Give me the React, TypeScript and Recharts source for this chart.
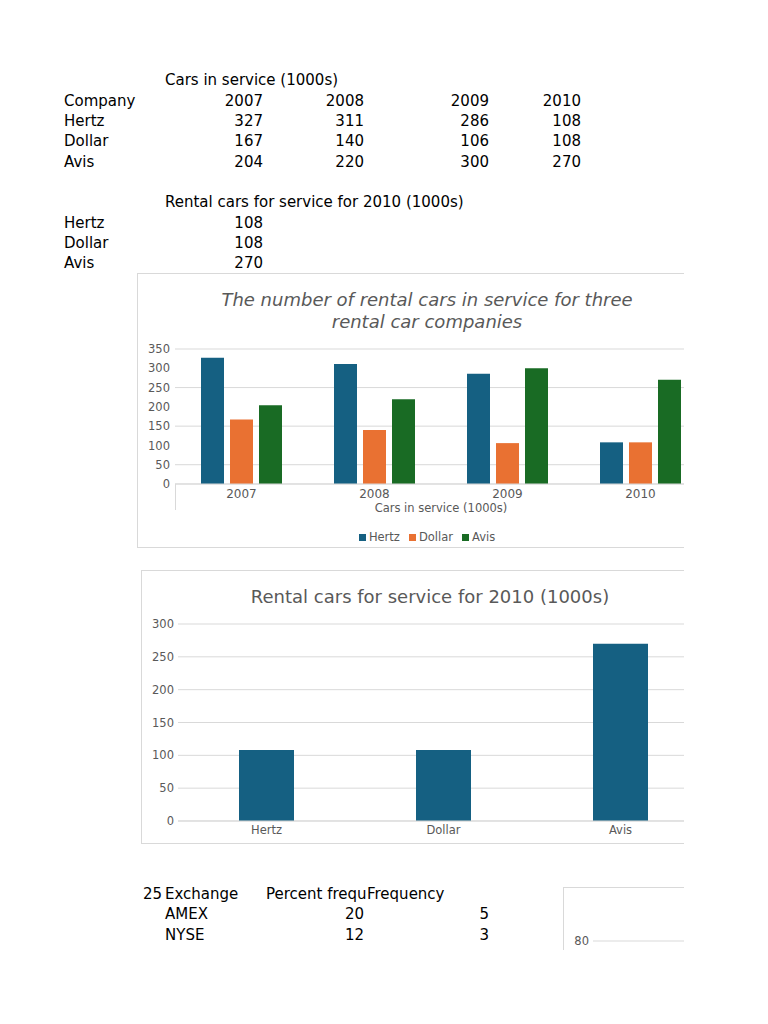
import React from 'react';
import { BarChart, Bar, XAxis, YAxis, CartesianGrid } from 'recharts';

// sheet data
const years = ['2007', '2008', '2009', '2010'];
const hertz = [327, 311, 286, 108];
const dollar = [167, 140, 106, 108];
const avis = [204, 220, 300, 270];

const companies = ['Hertz', 'Dollar', 'Avis'];
const cars2010 = [108, 108, 270];

const exchanges = ['AMEX', 'NYSE'];
const percentFreq = [20, 12];
const frequency = [5, 3];

const ticks1 = [0, 50, 100, 150, 200, 250, 300, 350];
const ticks2 = [0, 50, 100, 150, 200, 250, 300];
const ticks3 = [0, 20, 40, 60, 80];

const colors = { Hertz: '#156082', Dollar: '#E97132', Avis: '#196B24' };

const font = '"DejaVu Sans", sans-serif';
const grey = '#595959';
const line = '#d9d9d9';

const yearData = years.map((year, i) => ({
  year,
  Hertz: hertz[i],
  Dollar: dollar[i],
  Avis: avis[i],
}));
const data2010 = companies.map((name, i) => ({ name, value: cars2010[i] }));
const exchangeData = exchanges.map((name, i) => ({ name, value: percentFreq[i] }));

// column right edges of the sheet
const colRight = [263, 364, 489, 581];
const rowH = 20;

const Cell: React.FC<{ x: number; y: number; right?: boolean; width?: number; children: React.ReactNode }> = ({
  x,
  y,
  right,
  width,
  children,
}) => (
  <div
    style={{
      position: 'absolute',
      top: y - rowH / 2 + 1,
      height: rowH,
      lineHeight: `${rowH}px`,
      whiteSpace: 'nowrap',
      overflow: width ? 'hidden' : undefined,
      width: width,
      ...(right ? { left: x - 120, width: 120, textAlign: 'right' } : { left: x }),
    }}
  >
    {children}
  </div>
);

const Box: React.FC<{ x: number; y: number; w: number; h: number }> = ({ x, y, w, h }) => (
  <div
    style={{
      position: 'absolute',
      left: x,
      top: y,
      width: w,
      height: h,
      border: `1px solid ${line}`,
      boxSizing: 'border-box',
    }}
  />
);

export default function App() {
  const tableRows = [
    { name: 'Hertz', vals: hertz, y: 120 },
    { name: 'Dollar', vals: dollar, y: 140 },
    { name: 'Avis', vals: avis, y: 161 },
  ];
  const rows2010 = [222, 242, 262];
  const rowsEx = [913, 934];

  return (
    <div
      style={{
        position: 'absolute',
        left: 0,
        top: 0,
        width: 684,
        height: 950,
        overflow: 'hidden',
        background: '#fff',
        fontFamily: font,
        fontSize: 15,
        color: '#000',
      }}
    >
      {/* cars in service table */}
      <Cell x={165} y={79}>Cars in service (1000s)</Cell>
      <Cell x={64} y={100}>Company</Cell>
      {years.map((yr, i) => (
        <Cell key={yr} x={colRight[i]} y={100} right>
          {yr}
        </Cell>
      ))}
      {tableRows.map((r) => (
        <React.Fragment key={r.name}>
          <Cell x={64} y={r.y}>{r.name}</Cell>
          {r.vals.map((v, i) => (
            <Cell key={i} x={colRight[i]} y={r.y} right>
              {v}
            </Cell>
          ))}
        </React.Fragment>
      ))}

      <Cell x={165} y={201}>Rental cars for service for 2010 (1000s)</Cell>
      {companies.map((c, i) => (
        <React.Fragment key={c}>
          <Cell x={64} y={rows2010[i]}>{c}</Cell>
          <Cell x={colRight[0]} y={rows2010[i]} right>
            {cars2010[i]}
          </Cell>
        </React.Fragment>
      ))}

      {/* chart 1 */}
      <Box x={137} y={273} w={580} h={275} />
      <div
        style={{
          position: 'absolute',
          left: 137,
          top: 289,
          width: 580,
          textAlign: 'center',
          fontSize: 18,
          lineHeight: '22px',
          fontStyle: 'italic',
          color: grey,
        }}
      >
        The number of rental cars in service for three
        <br />
        rental car companies
      </div>
      <div style={{ position: 'absolute', left: 137, top: 273 }}>
        <BarChart
          width={580}
          height={275}
          data={yearData}
          margin={{ top: 76, right: 10, left: 0, bottom: 0 }}
          barSize={23}
          barGap={6}
        >
          <CartesianGrid vertical={false} stroke={line} />
          <XAxis
            dataKey="year"
            height={64}
            stroke={line}
            tickLine={false}
            tickSize={3}
            tickMargin={2}
            tick={{ fill: grey, fontSize: 12, fontFamily: font }}
            label={{
              value: 'Cars in service (1000s)',
              position: 'insideTop',
              offset: 20,
              fill: grey,
              fontSize: 11.5,
              fontFamily: font,
            }}
          />
          <YAxis
            width={38}
            domain={[0, 350]}
            ticks={ticks1}
            axisLine={false}
            tickLine={false}
            tickSize={3}
            tickMargin={2}
            tick={{ fill: grey, fontSize: 11.5, fontFamily: font }}
          />
          <Bar dataKey="Hertz" fill={colors.Hertz} isAnimationActive={false} />
          <Bar dataKey="Dollar" fill={colors.Dollar} isAnimationActive={false} />
          <Bar dataKey="Avis" fill={colors.Avis} isAnimationActive={false} />
        </BarChart>
      </div>
      <div style={{ position: 'absolute', left: 175, top: 484, width: 1, height: 26, background: line }} />
      <div
        style={{
          position: 'absolute',
          left: 137,
          top: 529,
          width: 580,
          display: 'flex',
          justifyContent: 'center',
          gap: 9,
          fontSize: 11.5,
          lineHeight: '16px',
          color: grey,
        }}
      >
        {companies.map((c) => (
          <div key={c} style={{ display: 'flex', alignItems: 'center', gap: 3 }}>
            <span style={{ width: 7, height: 7, background: colors[c as keyof typeof colors], display: 'inline-block' }} />
            {c}
          </div>
        ))}
      </div>

      {/* chart 2 */}
      <Box x={141} y={570} w={578} h={274} />
      <div
        style={{
          position: 'absolute',
          left: 141,
          top: 586,
          width: 578,
          textAlign: 'center',
          fontSize: 18,
          lineHeight: '22px',
          color: grey,
        }}
      >
        Rental cars for service for 2010 (1000s)
      </div>
      <div style={{ position: 'absolute', left: 141, top: 570 }}>
        <BarChart
          width={578}
          height={274}
          data={data2010}
          margin={{ top: 54, right: 10, left: 0, bottom: 0 }}
          barSize={55}
        >
          <CartesianGrid vertical={false} stroke={line} />
          <XAxis
            dataKey="name"
            height={23}
            stroke={line}
            tickLine={false}
            tickSize={3}
            tickMargin={2}
            tick={{ fill: grey, fontSize: 11.5, fontFamily: font }}
          />
          <YAxis
            width={37}
            domain={[0, 300]}
            ticks={ticks2}
            axisLine={false}
            tickLine={false}
            tickSize={2}
            tickMargin={2}
            tick={{ fill: grey, fontSize: 11.5, fontFamily: font }}
          />
          <Bar dataKey="value" fill={colors.Hertz} isAnimationActive={false} />
        </BarChart>
      </div>

      {/* exchange table */}
      <Cell x={162} y={893} right>25</Cell>
      <Cell x={165} y={893}>Exchange</Cell>
      <Cell x={266} y={893} width={101}>Percent frequency</Cell>
      <Cell x={367} y={893}>Frequency</Cell>
      {exchanges.map((ex, i) => (
        <React.Fragment key={ex}>
          <Cell x={165} y={rowsEx[i]}>{ex}</Cell>
          <Cell x={colRight[1]} y={rowsEx[i]} right>
            {percentFreq[i]}
          </Cell>
          <Cell x={colRight[2]} y={rowsEx[i]} right>
            {frequency[i]}
          </Cell>
        </React.Fragment>
      ))}

      {/* chart 3 (partly visible) */}
      <Box x={563} y={887} w={580} h={275} />
      <div style={{ position: 'absolute', left: 563, top: 887 }}>
        <BarChart
          width={580}
          height={275}
          data={exchangeData}
          margin={{ top: 54, right: 10, left: 0, bottom: 0 }}
          barSize={55}
        >
          <CartesianGrid vertical={false} stroke={line} />
          <XAxis dataKey="name" height={23} stroke={line} tickLine={false} tick={{ fill: grey, fontSize: 11.5 }} />
          <YAxis
            width={30}
            domain={[0, 80]}
            ticks={ticks3}
            axisLine={false}
            tickLine={false}
            tickSize={2}
            tickMargin={2}
            tick={{ fill: grey, fontSize: 11.5, fontFamily: font }}
          />
          <Bar dataKey="value" fill={colors.Hertz} isAnimationActive={false} />
        </BarChart>
      </div>
    </div>
  );
}
